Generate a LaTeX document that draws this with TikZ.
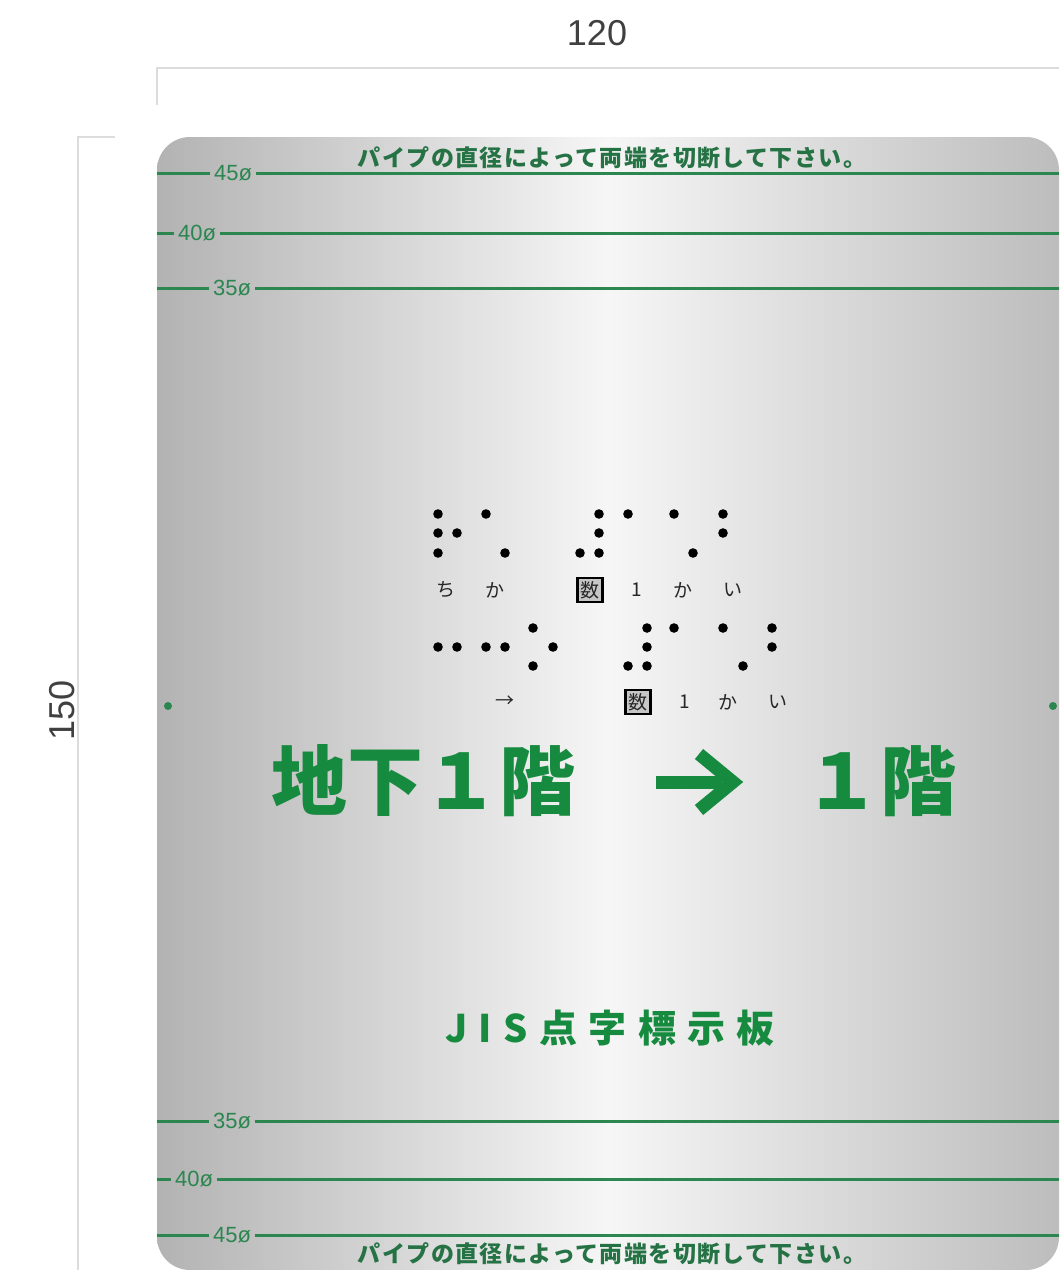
\documentclass[tikz,border=0pt]{standalone}
\usepackage{fontspec}
\setmainfont{Liberation Sans}
\newfontfamily\jpfont{Noto Sans CJK JP}
\newfontfamily\jpspaced{Noto Sans CJK JP}[LetterSpace=30]
\newfontfamily\jpnote{Noto Sans CJK JP}[LetterSpace=6]
\usetikzlibrary{arrows.meta,positioning}
\definecolor{signgreen}{RGB}{22,138,62}
\definecolor{pipegreen}{RGB}{44,134,80}
\definecolor{dimgray}{RGB}{220,220,220}

\begin{document}
\begin{tikzpicture}
    \tikzstyle{dimline} = [draw=dimgray, line width=0.02cm];
    \tikzstyle{dimlabel} = [text=black!75, font=\fontsize{0.36cm}{0.4cm}\selectfont, inner sep=0pt];
    \tikzstyle{pipeline} = [draw=pipegreen, line width=0.03cm];
    \tikzstyle{pipelabel} = [text=pipegreen, font=\fontsize{0.22cm}{0.24cm}\selectfont, inner sep=0.03cm];
    \tikzstyle{cutnote} = [text=pipegreen!85!black, font=\jpnote\bfseries\fontsize{0.23cm}{0.25cm}\selectfont, inner sep=0pt];
    \tikzstyle{kana} = [text=black!85, font=\jpfont\fontsize{0.19cm}{0.22cm}\selectfont, inner sep=0pt];
    \tikzstyle{numsign} = [kana, draw, line width=0.025cm, fill=gray!45, inner sep=0.03cm];
    \tikzstyle{bigsign} = [text=signgreen, font=\jpfont\bfseries\fontsize{0.76cm}{0.8cm}\selectfont, inner sep=0pt];

    \useasboundingbox (0,0) rectangle (10.59,-12.70);

    % dimensions
    \coordinate (wL) at (1.57,-0.68);
    \coordinate (wR) at (10.59,-0.68);
    \coordinate (wT) at (1.57,-1.05);
    \draw[dimline] (wT) -- (wL) -- (wR);
    \node[dimlabel] (width) at (5.97,-0.33) {120};
    \coordinate (hT) at (0.78,-1.37);
    \coordinate (hB) at (0.78,-12.70);
    \coordinate (hR) at (1.15,-1.37);
    \draw[dimline] (hR) -- (hT) -- (hB);
    \node[dimlabel, rotate=90] (height) at (0.62,-7.10) {150};

    % plate
    \shade[rounded corners=0.33cm, left color=gray!60, right color=gray!52, middle color=gray!7]
        (1.57,-1.37) rectangle (10.59,-12.70);

    % cut lines
    \foreach \name/\y/\lx/\d in {t45/1.73/2.33/45, t40/2.33/1.97/40, t35/2.88/2.32/35,
                                 b35/11.21/2.32/35, b40/11.79/1.94/40, b45/12.35/2.32/45} {
        \node[pipelabel] (\name) at (\lx,-\y) {\d ø};
        \coordinate (\name L) at (1.57,-\y);
        \coordinate (\name R) at (10.59,-\y);
        \draw[pipeline] (\name L) -- (\name);
        \draw[pipeline] (\name) -- (\name R);
    }
    \node[cutnote] (topnote) at (6.12,-1.575) {パイプの直径によって両端を切断して下さい。};
    \node[cutnote] (botnote) at (6.12,-12.54) {パイプの直径によって両端を切断して下さい。};

    % braille
    \foreach \x/\y in {438/514, 438/533, 457/533, 438/553, 486/514, 505/553,
                       599/514, 599/533, 580/553, 599/553, 628/514, 674/514, 693/553,
                       723/514, 723/533,
                       438/647, 457/647, 486/647, 505/647, 533/628, 553/647, 533/666,
                       647/628, 647/647, 628/666, 647/666, 674/628, 723/628, 743/666,
                       772/628, 772/647}
        \fill ({\x/100},{-\y/100}) circle (0.048);

    \node[kana] (chi) at (4.46,-5.90) {ち};
    \node[kana] (ka1) at (4.95,-5.90) {か};
    \node[numsign] (num1) at (5.90,-5.90) {数};
    \node[kana] (one1) at (6.37,-5.90) {1};
    \node[kana] (ka2) at (6.83,-5.90) {か};
    \node[kana] (i1) at (7.33,-5.90) {い};

    \node[kana] (to) at (5.05,-7.02) {→};
    \node[numsign] (num2) at (6.38,-7.02) {数};
    \node[kana] (one2) at (6.85,-7.02) {1};
    \node[kana] (ka3) at (7.28,-7.02) {か};
    \node[kana] (i2) at (7.78,-7.02) {い};

    % main sign
    \node[bigsign] (from) at (4.23,-7.81) {地下１階};
    \node[bigsign] (dest) at (8.80,-7.81) {１階};
    \coordinate (arrowL) at (6.56,-7.82);
    \coordinate (arrowR) at (7.22,-7.82);
    \coordinate (headT) at (6.99,-7.54);
    \coordinate (headM) at (7.33,-7.82);
    \coordinate (headB) at (6.99,-8.10);
    \draw[signgreen, line width=0.13cm] (arrowL) -- (arrowR);
    \draw[signgreen, line width=0.13cm] (headT) -- (headM) -- (headB);

    \node[text=signgreen, font=\jpspaced\bfseries\fontsize{0.38cm}{0.4cm}\selectfont, inner sep=0pt]
        (title) at (6.10,-10.28) {JIS点字標示板};

    % side marks
    \fill[pipegreen] (1.68,-7.06) circle (0.04);
    \fill[pipegreen] (10.53,-7.06) circle (0.04);
\end{tikzpicture}
\end{document}
